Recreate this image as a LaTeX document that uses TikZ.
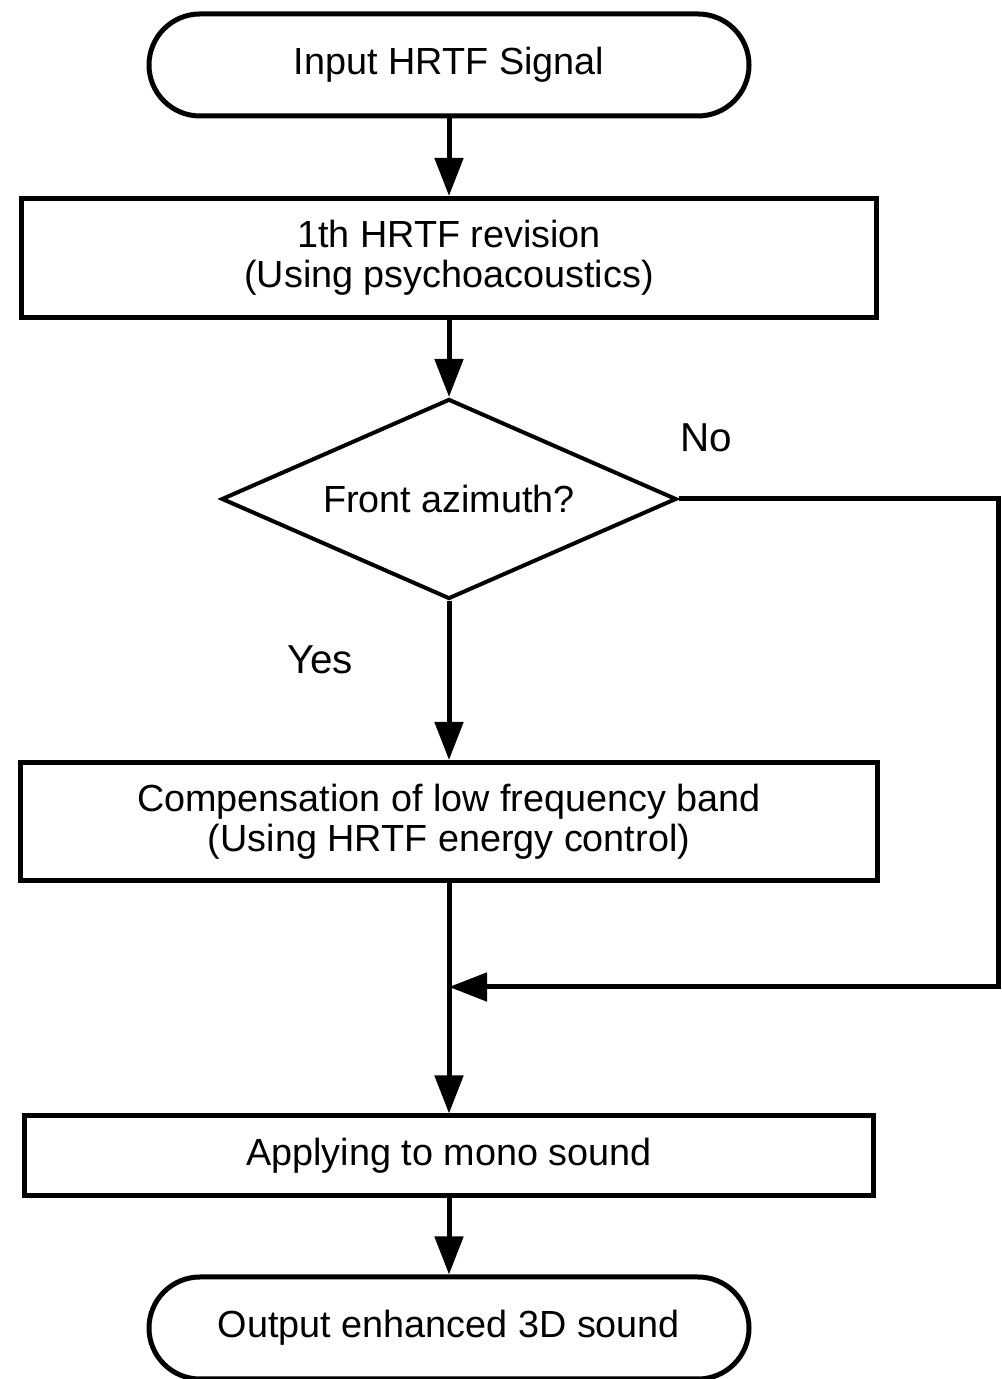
\documentclass[tikz,border=0pt]{standalone}
\usepackage{fontspec}
\setmainfont{Liberation Sans}
\usetikzlibrary{arrows.meta,shapes,positioning}

\begin{document}
\begin{tikzpicture}[
  every node/.style={font=\fontsize{21.5}{23}\selectfont, align=center},
  term/.style={draw, line width=0.1cm, rounded corners=1.02cm, minimum width=12cm, minimum height=2.04cm},
  proc/.style={draw, line width=0.1cm, minimum width=17.1cm, inner sep=0},
  flow/.style={line width=0.1cm, -{Triangle[length=7.6mm,width=5.6mm]}},
  label/.style={font=\fontsize{23}{25}\selectfont}
]
\useasboundingbox (0,0) rectangle (20.02,27.58);

\node [term] (start) at (8.98,26.28) {Input HRTF Signal};
\node [proc, minimum height=2.38cm] (rev) at (8.98,22.42) {1th HRTF revision\\(Using psychoacoustics)};
\node [diamond, draw, line width=0.08cm, inner sep=0, aspect=2.27, minimum width=9.1cm, minimum height=4cm] (front) at (8.98,17.6) {Front azimuth?};
\node [proc, minimum width=17.14cm, minimum height=2.36cm] (comp) at (8.98,11.15) {Compensation of low frequency band\\(Using HRTF energy control)};
\node [proc, minimum width=16.97cm, minimum height=1.6cm] (mono) at (8.98,4.46) {Applying to mono sound};
\node [term] (out) at (8.98,1.02) {Output enhanced 3D sound};

\coordinate (merge) at (8.98,7.84);
\coordinate (corner1) at (19.96,17.6);
\coordinate (corner2) at (19.96,7.84);

\draw [flow] (start) -- (rev);
\draw [flow] (rev) -- (front);
\draw [flow] (front) -- (comp);
\draw [flow] (comp) -- (mono);
\draw [flow] (mono) -- (out);
\draw [flow] (front.east) -- (corner1) -- (corner2) -- (merge);

\node [label] (no) at (14.12,18.82) {No};
\node [label] (yes) at (6.4,14.38) {Yes};
\end{tikzpicture}
\end{document}
